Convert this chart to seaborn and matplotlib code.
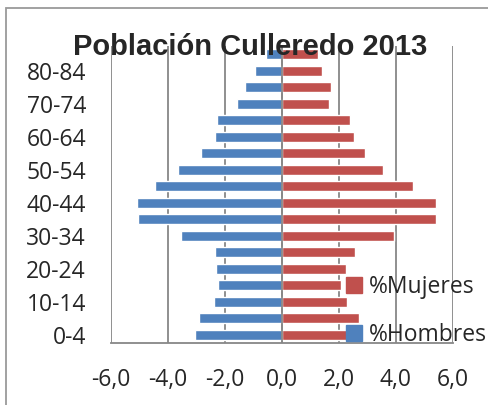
import numpy as np
import pandas as pd
import matplotlib
matplotlib.use("Agg")
import matplotlib.pyplot as plt
from matplotlib.patches import Patch, Rectangle
import seaborn as sns

# age groups, top of the pyramid first
edades = ["85+", "80-84", "75-79", "70-74", "65-69", "60-64", "55-59", "50-54",
          "45-49", "40-44", "35-39", "30-34", "25-29", "20-24", "15-19",
          "10-14", "5-9", "0-4"]
hombres = [0.57, 0.96, 1.29, 1.57, 2.29, 2.36, 2.83, 3.66, 4.44,
           5.10, 5.05, 3.55, 2.36, 2.33, 2.24, 2.38, 2.92, 3.06]
mujeres = [1.27, 1.41, 1.71, 1.65, 2.37, 2.53, 2.92, 3.54, 4.58,
           5.39, 5.39, 3.93, 2.56, 2.26, 2.06, 2.29, 2.70, 2.35]
xticks = [-6, -4, -2, 0, 2, 4, 6]

azul = "#4F81BD"
rojo = "#C0504D"
gris = "#878787"

df = pd.concat([
    pd.DataFrame({"edad": edades, "valor": [-v for v in hombres], "sexo": "%Hombres"}),
    pd.DataFrame({"edad": edades, "valor": mujeres, "sexo": "%Mujeres"}),
])

sns.set_style("white")
plt.rcParams["font.family"] = ["Open Sans", "DejaVu Sans"]

fig = plt.figure(figsize=(4.89, 4.05), dpi=100)
ax = fig.add_axes([111 / 489, 1 - 343 / 405, 342 / 489, 297 / 405])

sns.barplot(data=df, x="valor", y="edad", hue="sexo", order=edades,
            hue_order=["%Hombres", "%Mujeres"], palette=[azul, rojo],
            dodge=False, width=0.62, orient="h", legend=False,
            saturation=1, ax=ax, zorder=2)

ax.set_xlim(-6, 6)
ax.set_ylim(len(edades) - 0.5, -0.5)
ax.set_xlabel("")
ax.set_ylabel("")
ax.set_xticks(xticks)
ax.set_xticklabels([f"{v:.1f}".replace(".", ",") for v in xticks], fontsize=16.5)
ax.set_yticks(range(len(edades)))
ax.set_yticklabels([e if i % 2 == 1 else "" for i, e in enumerate(edades)], fontsize=16.5)
ax.tick_params(axis="y", length=0, pad=18)
ax.tick_params(axis="x", length=5, width=1.2, color=gris, pad=13, direction="out")

ax.set_axisbelow(True)
ax.grid(axis="x", color=gris, lw=1.3)
ax.grid(axis="y", visible=False)
ax.axvline(0, color=gris, lw=1.3, zorder=3)
for s in ["left", "right", "top"]:
    ax.spines[s].set_visible(False)
ax.spines["bottom"].set_color(gris)
ax.spines["bottom"].set_linewidth(1.3)

handles = [Patch(color=rojo, label="%Mujeres"), Patch(color=azul, label="%Hombres")]
ax.legend(handles=handles, frameon=False, loc="upper left",
          bbox_to_anchor=(346 / 489, 1 - 275 / 405), bbox_transform=fig.transFigure,
          fontsize=16.5, handlelength=0.7, handleheight=0.65, handletextpad=0.3,
          labelspacing=1.05, borderpad=0, borderaxespad=0)

fig.text(250 / 489, 1 - 55 / 405, "Población Culleredo 2013", ha="center", va="baseline",
         fontsize=21, fontweight="bold", family=["Liberation Sans", "DejaVu Sans"])

# chart border, runs off the right and bottom edges
fig.add_artist(Rectangle((6 / 489, -0.1), 1.0, 1.1 - 8 / 405, transform=fig.transFigure,
                         fill=False, edgecolor="#9a9a9a", lw=1.3))

fig.savefig("out.png", dpi=100)
